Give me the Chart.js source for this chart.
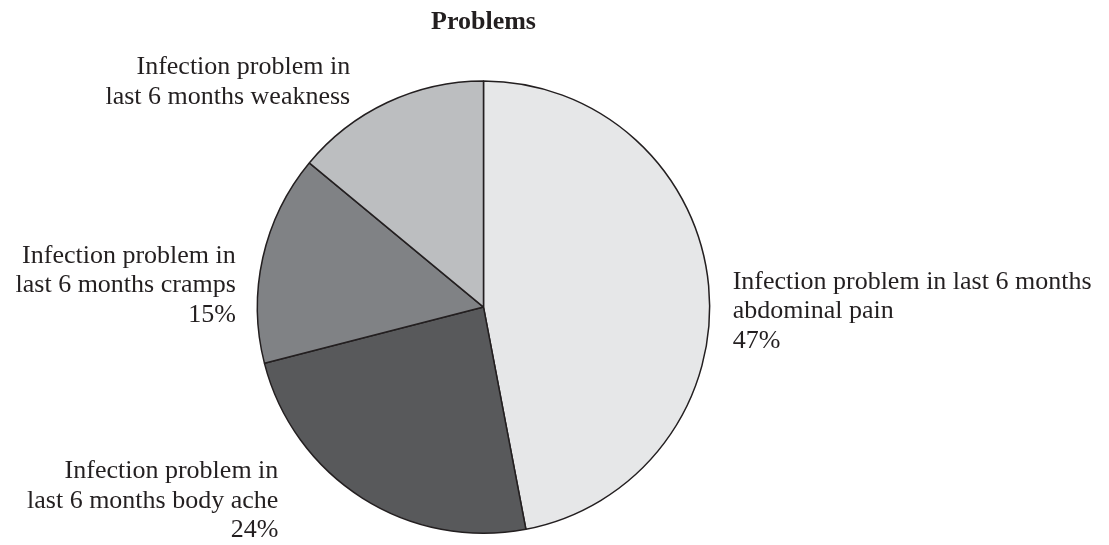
<!DOCTYPE html>
<html>
<head>
<meta charset="utf-8">
<script src="https://cdn.jsdelivr.net/npm/chart.js@4/dist/chart.umd.min.js"></script>
<style>
    html, body { margin: 0; padding: 0; background: #ffffff; }
    #wrap { width: 1109px; height: 545px; position: relative; }
</style>
</head>
<body>
<div id="wrap"><canvas id="pieChart"></canvas></div>
<script>
/* ================================
   DATA
================================ */
const categories = [
    "Infection problem in last 6 months abdominal pain",
    "Infection problem in last 6 months body ache",
    "Infection problem in last 6 months cramps",
    "Infection problem in last 6 months weakness"
];
const labelLines = [
    ["Infection problem in last 6 months", "abdominal pain"],
    ["Infection problem in", "last 6 months body ache"],
    ["Infection problem in", "last 6 months cramps"],
    ["Infection problem in", "last 6 months weakness"]
];
const values = [47, 24, 15, 14];
const showPercent = [true, true, true, false];
const sliceColors = ["#e6e7e8", "#58595b", "#808285", "#bcbec0"];

/* label placement relative to the slice's outer mid point */
const labelStyle = [
    { align: "left",  dx: 24,  dy: 3 },
    { align: "right", dx: -84, dy: -20 },
    { align: "right", dx: -27, dy: 5 },
    { align: "right", dx: -37, dy: -28 }
];

const textColor = "#231f20";
const labelFont = "26px 'Liberation Serif', 'Times New Roman', serif";
const lineGap = 29.5;

/* ================================
   OUTSIDE LABELS PLUGIN
================================ */
const outsideLabels = {
    id: "outsideLabels",
    afterDatasetsDraw(chart) {
        const ctx = chart.ctx;
        const meta = chart.getDatasetMeta(0);
        const total = values.reduce((a, b) => a + b, 0);

        ctx.save();
        ctx.font = labelFont;
        ctx.fillStyle = textColor;
        ctx.textBaseline = "alphabetic";

        meta.data.forEach((arc, i) => {
            const p = arc.getProps(["x", "y", "startAngle", "endAngle", "outerRadius"], true);
            const mid = (p.startAngle + p.endAngle) / 2;
            const ax = p.x + Math.cos(mid) * p.outerRadius;
            const ay = p.y + Math.sin(mid) * p.outerRadius;
            const st = labelStyle[i];

            const lines = labelLines[i].slice();
            if (showPercent[i]) lines.push(Math.round(values[i] / total * 100) + "%");

            ctx.textAlign = st.align;
            lines.forEach((line, k) => {
                ctx.fillText(line, ax + st.dx, ay + st.dy + k * lineGap);
            });
        });
        ctx.restore();
    }
};

/* ================================
   CHART
================================ */
const chart = new Chart(document.getElementById("pieChart"), {
    type: "pie",
    data: {
        labels: categories,
        datasets: [{
            data: values,
            backgroundColor: sliceColors,
            borderColor: textColor,
            borderWidth: 1.5,
            hoverOffset: 0
        }]
    },
    options: {
        responsive: true,
        maintainAspectRatio: false,
        animation: false,
        layout: {
            padding: { left: 256.5, right: 398.5, top: 0, bottom: 11 }
        },
        plugins: {
            legend: { display: false },
            tooltip: { enabled: false },
            title: {
                display: true,
                text: "Problems",
                color: textColor,
                font: { family: "'Liberation Serif', 'Times New Roman', serif", size: 26, weight: "bold", lineHeight: 1.2 },
                padding: { top: 7, bottom: 42 }
            }
        }
    },
    plugins: [outsideLabels]
});
</script>
</body>
</html>
